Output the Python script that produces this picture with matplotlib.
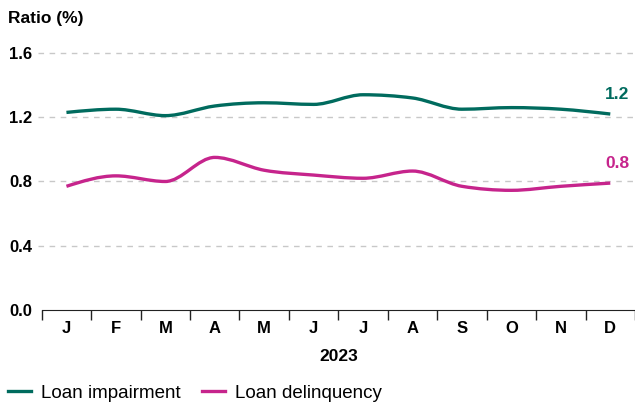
import matplotlib.pyplot as plt
from matplotlib.path import Path
from matplotlib.patches import PathPatch
from matplotlib.lines import Line2D
import numpy as np

plt.rcParams['font.family'] = ['Liberation Sans', 'DejaVu Sans']

months = ['J', 'F', 'M', 'A', 'M', 'J', 'J', 'A', 'S', 'O', 'N', 'D']
impairment = [1.23, 1.25, 1.21, 1.27, 1.29, 1.28, 1.34, 1.32, 1.25, 1.26, 1.25, 1.22]
delinquency = [0.77, 0.835, 0.80, 0.95, 0.87, 0.84, 0.82, 0.865, 0.77, 0.745, 0.77, 0.79]
end_labels = ['1.2', '0.8']

green = '#006b5e'
pink = '#c6248c'


def monotone_path(x, y):
    # cubic bezier through the points, monotone in x (like d3 curveMonotoneX)
    x = np.asarray(x, float)
    y = np.asarray(y, float)
    h = np.diff(x)
    s = np.diff(y) / h
    m = np.zeros_like(y)
    for i in range(1, len(y) - 1):
        if s[i - 1] * s[i] <= 0:
            m[i] = 0
        else:
            p = (s[i - 1] * h[i] + s[i] * h[i - 1]) / (h[i - 1] + h[i])
            m[i] = np.sign(s[i - 1]) * min(abs(s[i - 1]), abs(s[i]), 0.5 * abs(p)) * 2
    m[0] = (3 * s[0] - m[1]) / 2
    m[-1] = (3 * s[-1] - m[-2]) / 2
    verts = [(x[0], y[0])]
    codes = [Path.MOVETO]
    for i in range(len(x) - 1):
        d = h[i] / 3
        verts += [(x[i] + d, y[i] + m[i] * d), (x[i + 1] - d, y[i + 1] - m[i + 1] * d), (x[i + 1], y[i + 1])]
        codes += [Path.CURVE4] * 3
    return Path(verts, codes)


fig = plt.figure(figsize=(6.35, 4.03), dpi=100)
ax = fig.add_axes([0.0657, 0.2308, 0.9343, 0.6377])

x = np.arange(len(months)) + 0.5
for vals, col, lab in [(impairment, green, end_labels[0]), (delinquency, pink, end_labels[1])]:
    ax.add_patch(PathPatch(monotone_path(x, vals), fill=False, edgecolor=col, lw=2.4, capstyle='butt'))
    ax.annotate(lab, (x[-1], vals[-1]), xytext=(5, 9), textcoords='offset points',
                ha='center', va='bottom', color=col, fontsize=12.5, fontweight='bold')

ax.set_xlim(0, 12)
ax.set_ylim(0, 1.6)
ax.set_yticks([0, 0.4, 0.8, 1.2, 1.6])
ax.set_yticklabels(['0.0', '0.4', '0.8', '1.2', '1.6'], fontsize=12, fontweight='bold')
ax.set_xticks(np.arange(13))
ax.set_xticklabels([])
ax.set_xticks(x, minor=True)
ax.set_xticklabels(months, minor=True, fontsize=12, fontweight='bold')
ax.tick_params(axis='x', which='major', length=7, width=1, direction='out', color='#222222')
ax.tick_params(axis='x', which='minor', length=0, pad=8)
ax.tick_params(axis='y', length=0, pad=7)

for yv in [0.4, 0.8, 1.2, 1.6]:
    ax.axhline(yv, xmin=-0.006, color='#c8c8c8', lw=1, ls=(0, (4, 4)), zorder=0, clip_on=False)

for side in ['top', 'right', 'left']:
    ax.spines[side].set_visible(False)
ax.spines['bottom'].set_color('#222222')

ax.set_xlabel('2023', fontsize=12.5, fontweight='bold', labelpad=9)
fig.text(0.012, 0.953, 'Ratio (%)', fontsize=12.5, fontweight='bold', va='center', ha='left')

handles = [Line2D([], [], color=green, lw=2.4), Line2D([], [], color=pink, lw=2.4)]
fig.legend(handles, ['Loan impairment', 'Loan delinquency'], loc='center left',
           bbox_to_anchor=(0.012, 0.024), ncol=2, frameon=False, fontsize=13.5,
           handlelength=1.25, handletextpad=0.55, columnspacing=1.1, borderaxespad=0, borderpad=0)

fig.savefig('out.png', dpi=100)
